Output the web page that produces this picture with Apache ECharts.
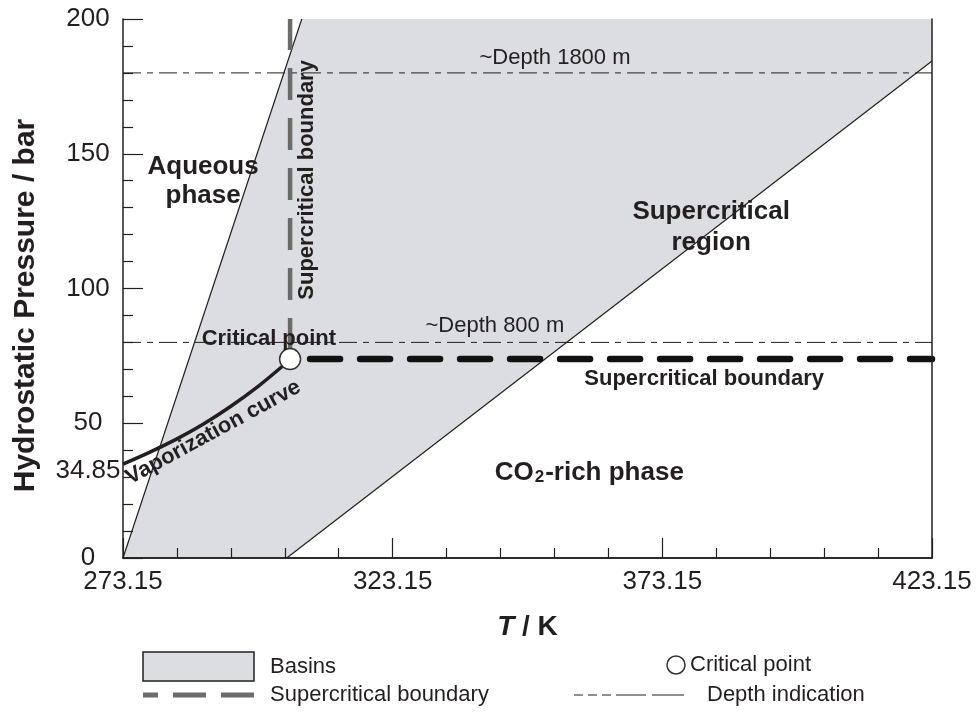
<!DOCTYPE html>
<html>
<head>
<meta charset="utf-8">
<script src="https://cdn.jsdelivr.net/npm/echarts@6/dist/echarts.min.js"></script>
<style>
    html, body { margin: 0; padding: 0; background: #fff; }
    #chart { width: 977px; height: 715px; }
</style>
</head>
<body>
<div id="chart"></div>
<script>
// --- data (T in K, P in bar) ---
const yLabelValues = [0, 34.85, 50, 100, 150, 200]

const basinT = [273.15, 306.3, 423.15, 423.15, 303.5]
const basinP = [0, 200, 200, 184.4, 0]
const basinLeftT = [273.15, 306.3]
const basinLeftP = [0, 200]
const basinRightT = [303.5, 423.15]
const basinRightP = [0, 184.4]

const vapT = [273.15, 278.15, 283.15, 288.15, 293.15, 298.15, 303.15, 304.13]
const vapP = [34.85, 39.3, 44.2, 49.8, 56.3, 63.6, 71.9, 73.8]

const critT = 304.13
const critP = 73.8
const scbVertT = [304.13, 304.13]
const scbVertP = [73.8, 200]
const scbHorT = [304.13, 423.15]
const scbHorP = [73.8, 73.8]

const depthT = [273.15, 423.15]
const depthP = [80, 180]

const FONT = "'Liberation Sans', Arial, sans-serif"
const INK = "#231f20"
const FILL = "#dcdde0"

const pairs = (xs, ys) => xs.map((x, i) => [x, ys[i]])

// text labels placed in data units
const notes = [
    { text: "Aqueous\nphase", at: [288.0, 139.6], size: 26, bold: true, lh: 29 },
    { text: "Supercritical boundary", at: [307.3, 140.3], size: 22, bold: true, rotate: 90 },
    { text: "~Depth 1800 m", at: [353.25, 185.5], size: 22 },
    { text: "~Depth 800 m", at: [342.1, 86.1], size: 22 },
    { text: "Critical point", at: [300.2, 81.3], size: 22, bold: true },
    { text: "Supercritical\nregion", at: [382.2, 122.8], size: 26, bold: true, lh: 31 },
    { text: "Supercritical boundary", at: [380.9, 66.4], size: 22, bold: true },
    { text: "{b|CO}{s|2}{b|-rich phase}", at: [359.6, 31.5], size: 26, bold: true },
    { text: "Vaporization curve", at: [289.9, 46.6], size: 22, bold: true, rotate: 28.6 }
]

const axisLine = { show: true, lineStyle: { color: INK, width: 1.5 } }
const tickStyle = { color: INK, width: 1.2 }

const chart = echarts.init(document.getElementById("chart"))

const option = {
    animation: false,
    textStyle: { fontFamily: FONT, color: INK },
    grid: { left: 123, right: 45, top: 19, bottom: 157 },
    xAxis: [{
        type: "value", min: 273.15, max: 423.15, interval: 50,
        name: "{t|T}{k| / K}", nameLocation: "middle", nameGap: 55,
        nameTextStyle: {
            rich: {
                t: { fontSize: 28, fontWeight: "bold", fontStyle: "italic", fontFamily: FONT, color: INK },
                k: { fontSize: 28, fontWeight: "bold", fontFamily: FONT, color: INK }
            }
        },
        axisLine: axisLine,
        axisTick: { show: true, inside: true, length: 20, lineStyle: tickStyle },
        minorTick: { show: true, splitNumber: 5, length: 10, lineStyle: tickStyle },
        axisLabel: { formatter: v => v.toFixed(2), fontSize: 26, margin: 11, color: INK, fontFamily: FONT },
        splitLine: { show: false },
        z: 10
    }, {
        type: "value", min: 273.15, max: 423.15, position: "top",
        axisLine: axisLine, axisTick: { show: false }, axisLabel: { show: false },
        splitLine: { show: false }, z: 10
    }],
    yAxis: [{
        type: "value", min: 0, max: 200, interval: 50,
        name: "Hydrostatic Pressure / bar", nameLocation: "middle", nameGap: 82,
        nameTextStyle: { fontSize: 30, fontWeight: "bold", color: INK, fontFamily: FONT, padding: [0, 34, 0, 0] },
        axisLine: axisLine,
        axisTick: { show: true, inside: true, length: 20, lineStyle: tickStyle },
        minorTick: { show: true, splitNumber: 5, length: 10, lineStyle: tickStyle },
        axisLabel: {
            customValues: yLabelValues,
            align: "center", margin: 35, fontSize: 26, color: INK, fontFamily: FONT,
            formatter: v => v === 34.85 ? "{d|34.85}" : String(v),
            rich: { d: { fontSize: 26, color: INK, fontFamily: FONT, padding: [14, 0, 0, 0] } }
        },
        splitLine: { show: false },
        z: 10
    }, {
        type: "value", min: 0, max: 200, position: "right",
        axisLine: axisLine, axisTick: { show: false }, axisLabel: { show: false },
        splitLine: { show: false }, z: 10
    }],
    series: [
        {
            // basins area
            type: "custom",
            silent: true,
            z: 1,
            data: pairs(basinT, basinP),
            renderItem: (params, api) => {
                if (params.dataIndex !== 0) return
                const pts = basinT.map((t, i) => api.coord([t, basinP[i]]))
                return { type: "polygon", shape: { points: pts }, style: { fill: FILL } }
            }
        },
        {
            type: "line", data: pairs(basinLeftT, basinLeftP), symbol: "none", z: 3,
            lineStyle: { color: INK, width: 1.2 }
        },
        {
            type: "line", data: pairs(basinRightT, basinRightP), symbol: "none", z: 3,
            lineStyle: { color: INK, width: 1.2 }
        },
        {
            // depth 800 m
            type: "line", data: pairs(depthT, [depthP[0], depthP[0]]), symbol: "none", z: 3,
            lineStyle: { color: INK, width: 1, type: [18, 6, 6, 6] }
        },
        {
            // depth 1800 m
            type: "line", data: pairs(depthT, [depthP[1], depthP[1]]), symbol: "none", z: 3,
            lineStyle: { color: INK, width: 1, type: [18, 6, 6, 6] }
        },
        {
            // vertical supercritical boundary
            type: "line", data: pairs(scbVertT, scbVertP), symbol: "none", z: 4,
            lineStyle: { color: "#6b6b6b", width: 4.5, type: [32, 18], dashOffset: 41 }
        },
        {
            // horizontal supercritical boundary
            type: "line", data: pairs(scbHorT, scbHorP), symbol: "none", z: 4,
            lineStyle: { color: "#111", width: 6.5, type: [30, 20], dashOffset: 30, cap: "round" }
        },
        {
            // vaporization curve
            type: "line", data: pairs(vapT, vapP), symbol: "none", smooth: 0.3, z: 5,
            lineStyle: { color: INK, width: 3.5, join: "round" }
        },
        {
            // critical point
            type: "scatter", data: [[critT, critP]], symbol: "circle", symbolSize: 21, z: 6,
            itemStyle: { color: "#fff", borderColor: "#333", borderWidth: 1.5, opacity: 1 }
        },
        {
            // labels
            type: "scatter", symbolSize: 0, z: 8, silent: true,
            itemStyle: { opacity: 1 },
            data: notes.map(n => ({
                value: n.at,
                label: {
                    show: true,
                    position: "inside",
                    formatter: n.text,
                    rotate: n.rotate || 0,
                    fontSize: n.size,
                    fontWeight: n.bold ? "bold" : "normal",
                    lineHeight: n.lh || n.size,
                    color: INK,
                    opacity: 1,
                    fontFamily: FONT,
                    align: "center",
                    verticalAlign: "middle",
                    rich: {
                        b: { fontSize: 26, fontWeight: "bold", color: INK, fontFamily: FONT, lineHeight: 26 },
                        s: { fontSize: 17, fontWeight: "bold", color: INK, fontFamily: FONT, lineHeight: 17, verticalAlign: "bottom", padding: [0, 1, 0, 1] }
                    }
                }
            }))
        }
    ],
    graphic: [
        { type: "rect", shape: { x: 143, y: 652, width: 111, height: 29 }, style: { fill: FILL, stroke: INK, lineWidth: 1.5 } },
        { type: "text", x: 270, y: 667, style: { text: "Basins", font: "22px " + FONT, fill: INK, verticalAlign: "middle" } },
        { type: "line", shape: { x1: 143, y1: 695, x2: 254, y2: 695 }, style: { stroke: "#6b6b6b", lineWidth: 5, lineDash: [33, 15], lineDashOffset: 18 } },
        { type: "text", x: 270, y: 695, style: { text: "Supercritical boundary", font: "22px " + FONT, fill: INK, verticalAlign: "middle" } },
        { type: "circle", shape: { cx: 676, cy: 665, r: 9 }, style: { fill: "#fff", stroke: "#333", lineWidth: 1.5 } },
        { type: "text", x: 690, y: 665, style: { text: "Critical point", font: "22px " + FONT, fill: INK, verticalAlign: "middle" } },
        { type: "line", shape: { x1: 574, y1: 695, x2: 684, y2: 695 }, style: { stroke: INK, lineWidth: 1, lineDash: [9, 5, 9, 5, 9, 5, 30, 6, 32, 40] } },
        { type: "text", x: 707, y: 695, style: { text: "Depth indication", font: "22px " + FONT, fill: INK, verticalAlign: "middle" } }
    ]
}

chart.setOption(option)
</script>
</body>
</html>
